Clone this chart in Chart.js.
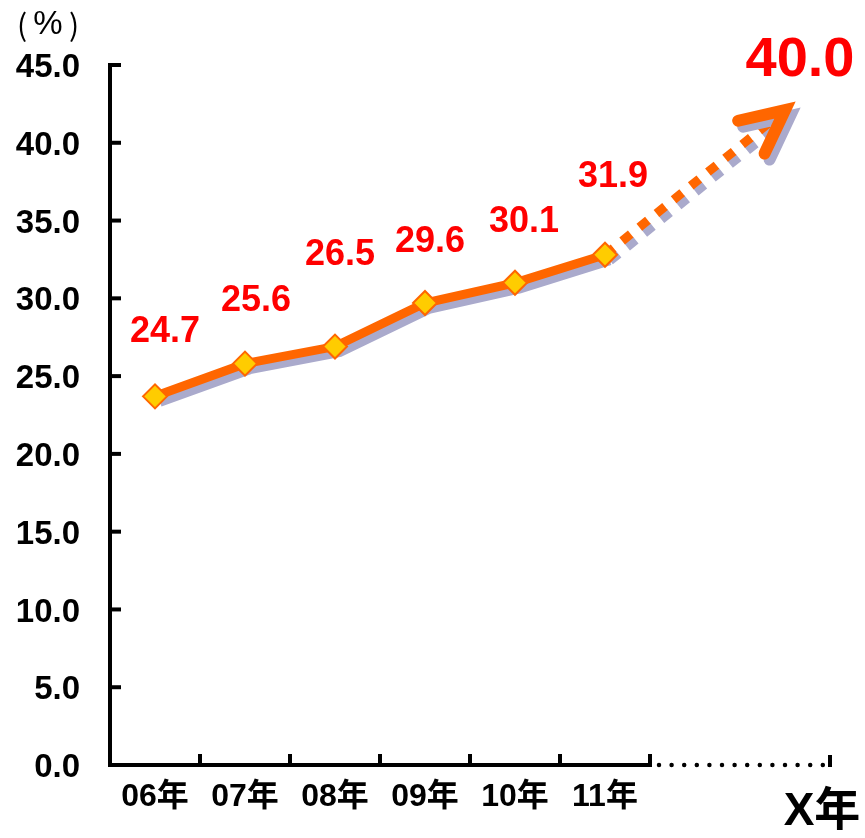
<!DOCTYPE html>
<html>
<head>
<meta charset="utf-8">
<script src="https://cdn.jsdelivr.net/npm/chart.js@4.4.1/dist/chart.umd.min.js"></script>
<style>
  html, body { margin: 0; padding: 0; background: #ffffff; }
  #wrap { width: 865px; height: 838px; position: relative; }
</style>
</head>
<body>
<div id="wrap"><canvas id="c"></canvas></div>
<script>
// ---- data ----
const categories = ['06年', '07年', '08年', '09年', '10年', '11年', '', ''];
const actualValues = [23.7, 25.8, 26.9, 29.7, 31.0, 32.8];
const actualLabels = ['24.7', '25.6', '26.5', '29.6', '30.1', '31.9'];
const targetValue = 42.1;
const targetLabel = '40.0';
const futureCategory = 'X年';
const unitParts = ['(', '%', ')'];
const yMin = 0, yMax = 45, yStep = 5;

// ---- style / layout ----
const ORANGE = '#FF6600';
const YELLOW = '#FFCC00';
const SHADOW = '#aaaacc';
const RED = '#FF0000';
const labelOffsetY = [-64, -63, -91, -61, -61, -78];
const labelOffsetX = [10, 11, 5, 5, 9, 8];
const unitPartX = [22, 48, 74];
const unitPartFont = ['30px "Noto Sans CJK JP", sans-serif',
                      '33px "Liberation Sans", Arial, sans-serif',
                      '30px "Noto Sans CJK JP", sans-serif'];

const lineData = actualValues.concat([null, null]);
const projectionData = categories.map((c, i) =>
  i === actualValues.length - 1 ? actualValues[actualValues.length - 1] :
  (i === categories.length - 1 ? targetValue : null));

const shadowPlugin = {
  id: 'shadow',
  beforeDatasetDraw(chart, args) {
    const ds = chart.data.datasets[args.index];
    if (ds.shadow) {
      const ctx = chart.ctx;
      ctx.save();
      ctx.shadowColor = SHADOW;
      ctx.shadowOffsetX = 5;
      ctx.shadowOffsetY = 6;
      ctx.shadowBlur = 0;
    }
  },
  afterDatasetDraw(chart, args) {
    const ds = chart.data.datasets[args.index];
    if (ds.shadow) chart.ctx.restore();
  }
};

const axesPlugin = {
  id: 'axes',
  beforeDatasetsDraw(chart) {
    const ctx = chart.ctx;
    const { left, right, bottom } = chart.chartArea;
    const xs = chart.scales.x, ys = chart.scales.y;
    const w = xs.getPixelForValue(1) - xs.getPixelForValue(0);
    ctx.save();
    ctx.strokeStyle = '#000';
    ctx.lineWidth = 4;
    ctx.lineCap = 'butt';
    // y axis
    ctx.beginPath();
    ctx.moveTo(left, ys.getPixelForValue(yMax) - 2);
    ctx.lineTo(left, bottom + 2);
    ctx.stroke();
    ys.ticks.forEach(t => {
      const y = ys.getPixelForValue(t.value);
      ctx.beginPath();
      ctx.moveTo(left, y);
      ctx.lineTo(left + 11, y);
      ctx.stroke();
    });
    // x axis solid part
    const solidEnd = xs.getPixelForValue(actualValues.length - 1) + w / 2;
    ctx.beginPath();
    ctx.moveTo(left - 2, bottom);
    ctx.lineTo(solidEnd + 2, bottom);
    ctx.stroke();
    for (let i = 1; i <= actualValues.length; i++) {
      const x = xs.getPixelForValue(i) - w / 2;
      ctx.beginPath();
      ctx.moveTo(x, bottom);
      ctx.lineTo(x, bottom - 11);
      ctx.stroke();
    }
    // end tick
    ctx.beginPath();
    ctx.moveTo(right, bottom + 2);
    ctx.lineTo(right, bottom - 10);
    ctx.stroke();
    // dotted part
    ctx.lineCap = 'round';
    ctx.lineWidth = 4.5;
    ctx.setLineDash([0, 12.6]);
    ctx.beginPath();
    ctx.moveTo(solidEnd + 9, bottom);
    ctx.lineTo(right - 4, bottom);
    ctx.stroke();
    ctx.restore();
  },
  afterDatasetsDraw(chart) {
    const ctx = chart.ctx;
    const { right, bottom } = chart.chartArea;
    // arrow head
    const meta = chart.getDatasetMeta(1);
    const p0 = meta.data[actualValues.length - 1];
    const p1 = meta.data[categories.length - 1];
    const ang = Math.atan2(p0.y - p1.y, p0.x - p1.x);
    const len = 48, spread = 26 * Math.PI / 180;
    ctx.save();
    ctx.shadowColor = SHADOW;
    ctx.shadowOffsetX = 5;
    ctx.shadowOffsetY = 6;
    ctx.strokeStyle = ORANGE;
    ctx.lineWidth = 12;
    ctx.lineCap = 'round';
    ctx.lineJoin = 'miter';
    ctx.miterLimit = 10;
    ctx.beginPath();
    ctx.moveTo(p1.x + len * Math.cos(ang + spread), p1.y + len * Math.sin(ang + spread));
    ctx.lineTo(p1.x, p1.y);
    ctx.lineTo(p1.x + len * Math.cos(ang - spread), p1.y + len * Math.sin(ang - spread));
    ctx.stroke();
    ctx.restore();

    // labels
    ctx.save();
    ctx.fillStyle = RED;
    ctx.textAlign = 'center';
    ctx.textBaseline = 'middle';
    ctx.font = 'bold 36px "Liberation Sans", Arial, sans-serif';
    const pm = chart.getDatasetMeta(2);
    actualLabels.forEach((lab, i) => {
      const pt = pm.data[i];
      ctx.fillText(lab, pt.x + labelOffsetX[i], pt.y + labelOffsetY[i]);
    });
    ctx.font = 'bold 56px "Liberation Sans", Arial, sans-serif';
    ctx.fillText(targetLabel, p1.x + 15, p1.y - 50);

    // future category label
    ctx.fillStyle = '#000';
    ctx.font = 'bold 46px "Liberation Sans", "Noto Sans CJK JP", sans-serif';
    ctx.fillText(futureCategory, right - 8, bottom + 47);

    // unit label
    unitParts.forEach((t, i) => {
      ctx.font = unitPartFont[i];
      ctx.fillText(t, unitPartX[i], 25);
    });
    ctx.restore();
  }
};

new Chart(document.getElementById('c'), {
  type: 'line',
  data: {
    labels: categories,
    datasets: [
      {
        label: 'actual-line',
        data: lineData,
        borderColor: ORANGE,
        borderWidth: 9,
        pointRadius: 0,
        tension: 0,
        fill: false,
        shadow: true,
        order: 1
      },
      {
        label: 'projection',
        data: projectionData,
        borderColor: ORANGE,
        borderWidth: 9,
        borderDash: [11, 11],
        borderCapStyle: 'butt',
        pointRadius: 0,
        spanGaps: true,
        tension: 0,
        fill: false,
        shadow: true,
        order: 2
      },
      {
        label: 'points',
        data: lineData,
        showLine: false,
        pointStyle: 'rectRot',
        pointRadius: 12,
        pointBackgroundColor: YELLOW,
        pointBorderColor: ORANGE,
        pointBorderWidth: 2,
        order: 0
      }
    ]
  },
  options: {
    responsive: true,
    maintainAspectRatio: false,
    animation: false,
    layout: { padding: { top: 65, right: 35, left: 0, bottom: 0 } },
    plugins: { legend: { display: false }, tooltip: { enabled: false } },
    scales: {
      x: {
        offset: true,
        grid: { display: false, drawTicks: false },
        border: { display: false },
        ticks: {
          autoSkip: false,
          maxRotation: 0,
          padding: 13,
          color: '#000',
          font: { family: '"Liberation Sans", "Noto Sans CJK JP", sans-serif', size: 32, weight: 'bold' }
        },
        afterFit(s) { s.height = 73; }
      },
      y: {
        min: yMin,
        max: yMax,
        grid: { display: false, drawTicks: false },
        border: { display: false },
        ticks: {
          stepSize: yStep,
          padding: 30,
          labelOffset: 3,
          color: '#000',
          font: { family: '"Liberation Sans", Arial, sans-serif', size: 33, weight: 'bold' },
          callback: v => Number(v).toFixed(1)
        },
        afterFit(s) { s.width = 110; }
      }
    }
  },
  plugins: [shadowPlugin, axesPlugin]
});
</script>
</body>
</html>
